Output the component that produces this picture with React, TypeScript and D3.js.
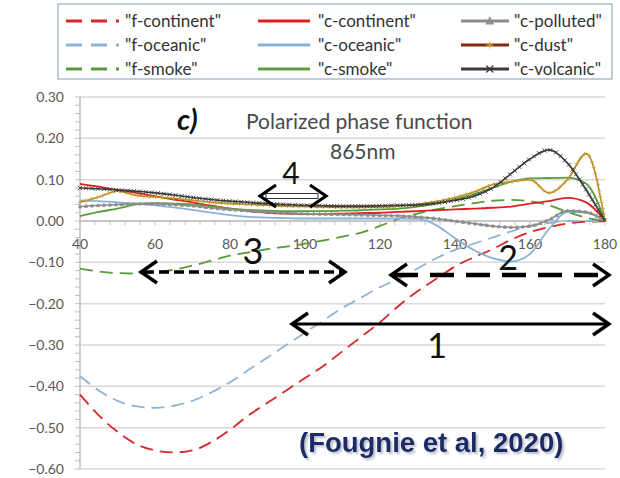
import React, { useEffect, useRef } from 'react';
import * as d3 from 'd3';

// Polarized phase function at 865nm, fine (f-) and coarse (c-) aerosol models.
// Values every 5 degrees of scattering angle.

const ANGLES = [40, 45, 50, 55, 60, 65, 70, 75, 80, 85, 90, 95, 100, 105, 110, 115, 120, 125, 130, 135, 140, 145, 150, 155, 160, 165, 170, 175, 180];

const fContinent = [-0.42, -0.47, -0.51, -0.54, -0.555, -0.56, -0.555, -0.535, -0.505, -0.47, -0.44, -0.41, -0.38, -0.35, -0.315, -0.28, -0.245, -0.205, -0.17, -0.14, -0.11, -0.088, -0.068, -0.045, -0.027, -0.015, -0.006, -0.002, 0];
const fOceanic = [-0.375, -0.41, -0.435, -0.448, -0.452, -0.447, -0.435, -0.415, -0.39, -0.36, -0.33, -0.3, -0.27, -0.24, -0.21, -0.185, -0.16, -0.14, -0.115, -0.09, -0.07, -0.055, -0.04, -0.025, -0.012, -0.005, 0, 0, 0];
const fSmoke = [-0.115, -0.122, -0.126, -0.127, -0.124, -0.118, -0.108, -0.096, -0.084, -0.076, -0.068, -0.062, -0.055, -0.047, -0.038, -0.028, -0.012, 0.005, 0.018, 0.028, 0.036, 0.043, 0.049, 0.051, 0.048, 0.038, 0.022, 0.008, 0];
const cContinent = [0.09, 0.083, 0.075, 0.068, 0.06, 0.052, 0.045, 0.037, 0.03, 0.024, 0.02, 0.018, 0.017, 0.017, 0.018, 0.019, 0.02, 0.022, 0.024, 0.026, 0.028, 0.03, 0.032, 0.035, 0.042, 0.048, 0.056, 0.045, 0];
const cOceanic = [0.05, 0.048, 0.045, 0.042, 0.038, 0.033, 0.027, 0.02, 0.014, 0.01, 0.008, 0.007, 0.006, 0.006, 0.006, 0.006, 0.006, 0.006, 0.005, -0.01, -0.042, -0.07, -0.09, -0.098, -0.08, -0.02, 0.022, 0.02, 0];
const cSmoke = [0.012, 0.022, 0.03, 0.04, 0.043, 0.042, 0.04, 0.035, 0.03, 0.027, 0.025, 0.024, 0.024, 0.024, 0.025, 0.026, 0.028, 0.03, 0.035, 0.042, 0.052, 0.065, 0.08, 0.095, 0.103, 0.104, 0.105, 0.09, 0];
const cPolluted = [0.035, 0.038, 0.04, 0.042, 0.042, 0.04, 0.037, 0.032, 0.028, 0.025, 0.022, 0.02, 0.018, 0.017, 0.016, 0.015, 0.014, 0.013, 0.01, 0.006, 0, -0.006, -0.012, -0.015, -0.012, 0.003, 0.025, 0.022, 0];
const cDust = [0.045, 0.058, 0.072, 0.062, 0.058, 0.055, 0.05, 0.045, 0.042, 0.04, 0.038, 0.036, 0.035, 0.034, 0.033, 0.033, 0.034, 0.036, 0.04, 0.047, 0.057, 0.07, 0.088, 0.095, 0.1, 0.068, 0.1, 0.163, 0];
const cVolcanic = [0.08, 0.078, 0.075, 0.072, 0.068, 0.063, 0.057, 0.052, 0.048, 0.045, 0.042, 0.04, 0.038, 0.037, 0.036, 0.036, 0.037, 0.038, 0.039, 0.043, 0.05, 0.06, 0.08, 0.115, 0.15, 0.172, 0.14, 0.075, 0];

const Y_TICKS = [0.3, 0.2, 0.1, 0, -0.1, -0.2, -0.3, -0.4, -0.5, -0.6];
const X_TICKS = [40, 60, 80, 100, 120, 140, 160, 180];

const SERIES = [
  { name: '"f-continent"', values: fContinent, color: '#d9262b', dash: '13,7', marker: null },
  { name: '"f-oceanic"', values: fOceanic, color: '#8fb4d6', dash: '13,7', marker: null },
  { name: '"f-smoke"', values: fSmoke, color: '#5b9a3a', dash: '13,7', marker: null },
  { name: '"c-continent"', values: cContinent, color: '#e02020', dash: null, marker: null },
  { name: '"c-oceanic"', values: cOceanic, color: '#88b2d8', dash: null, marker: null },
  { name: '"c-smoke"', values: cSmoke, color: '#5a9e3a', dash: null, marker: null },
  { name: '"c-polluted"', values: cPolluted, color: '#8c8c8c', dash: null, marker: 'tri' },
  { name: '"c-dust"', values: cDust, color: '#b88a20', dash: null, marker: 'plus' },
  { name: '"c-volcanic"', values: cVolcanic, color: '#3a3a3a', dash: null, marker: 'x' },
];

const FONT = 'Lato, "Open Sans", sans-serif';

function markerPath(kind, s) {
  if (kind === 'tri') return `M0,${-s}L${s},${s * 0.8}L${-s},${s * 0.8}Z`;
  if (kind === 'plus') return `M${-s},0H${s}M0,${-s}V${s}`;
  return `M${-s},${-s}L${s},${s}M${-s},${s}L${s},${-s}`;
}

const App = () => {
  const svgRef = useRef(null);

  useEffect(() => {
    document.body.style.margin = '0';
    const svg = d3.select(svgRef.current);
    svg.selectAll('*').remove();

    const defs = svg.append('defs');
    const f = defs.append('filter').attr('id', 'citeShadow').attr('x', '-5%').attr('y', '-20%')
      .attr('width', '115%').attr('height', '150%');
    f.append('feDropShadow').attr('dx', 2).attr('dy', 2).attr('stdDeviation', 1.2)
      .attr('flood-color', '#8890a8').attr('flood-opacity', 0.6);

    const x = d3.scaleLinear().domain([40, 180]).range([80, 605]);
    const y = d3.scaleLinear().domain([-0.6, 0.3]).range([469, 97]);

    // gridlines
    svg.append('g').selectAll('line').data(Y_TICKS).enter().append('line')
      .attr('x1', 80).attr('x2', 605)
      .attr('y1', d => y(d)).attr('y2', d => y(d))
      .attr('stroke', '#d9d9d9').attr('stroke-width', 1.5);

    // y axis with minor ticks
    const yAx = svg.append('g');
    yAx.append('line').attr('x1', 80).attr('x2', 80).attr('y1', y(0.3)).attr('y2', y(-0.6))
      .attr('stroke', '#bfbfbf').attr('stroke-width', 1.5);
    yAx.selectAll('line.minor').data(d3.range(-0.6, 0.3001, 0.02)).enter().append('line')
      .attr('class', 'minor')
      .attr('x1', 75).attr('x2', 80).attr('y1', d => y(d)).attr('y2', d => y(d))
      .attr('stroke', '#bfbfbf').attr('stroke-width', 1);
    yAx.selectAll('text').data(Y_TICKS).enter().append('text')
      .attr('x', 64).attr('y', d => y(d) + 5)
      .attr('text-anchor', 'end')
      .attr('fill', '#595959').style('font', `14px ${FONT}`)
      .text(d => d3.format('.2f')(d));

    // x axis on the zero line
    const xAx = svg.append('g');
    xAx.append('line').attr('x1', 80).attr('x2', 605).attr('y1', y(0)).attr('y2', y(0))
      .attr('stroke', '#bfbfbf').attr('stroke-width', 1.5);
    xAx.selectAll('line.minor').data(d3.range(40, 181, 4)).enter().append('line')
      .attr('class', 'minor')
      .attr('x1', d => x(d)).attr('x2', d => x(d)).attr('y1', y(0)).attr('y2', y(0) + 4)
      .attr('stroke', '#bfbfbf').attr('stroke-width', 1);
    xAx.selectAll('text').data(X_TICKS).enter().append('text')
      .attr('x', d => x(d)).attr('y', y(0) + 28)
      .attr('text-anchor', 'middle')
      .attr('fill', '#595959').style('font', `14px ${FONT}`)
      .text(d => d);

    const line = d3.line().x(d => x(d[0])).y(d => y(d[1])).curve(d3.curveMonotoneX);

    const gl = svg.append('g');
    SERIES.forEach(s => {
      const pts = ANGLES.map((a, i) => [a, s.values[i]]);
      const p = gl.append('path')
        .attr('d', line(pts))
        .attr('fill', 'none')
        .attr('stroke', s.color)
        .attr('stroke-width', s.marker ? 1.6 : 1.8)
        .attr('stroke-dasharray', s.dash);
      if (s.marker) {
        // markers spaced along the drawn curve
        const node = p.node();
        const len = node.getTotalLength();
        const step = 6;
        const mk = gl.append('g');
        for (let l = 0; l <= len; l += step) {
          const pt = node.getPointAtLength(l);
          mk.append('path')
            .attr('transform', `translate(${pt.x},${pt.y})`)
            .attr('d', markerPath(s.marker, s.marker === 'tri' ? 1.6 : 2))
            .attr('fill', s.marker === 'tri' ? s.color : 'none')
            .attr('stroke', s.marker === 'plus' ? '#c9a23a' : s.color)
            .attr('stroke-width', 0.9);
        }
      }
    });

    // titles
    svg.append('text').attr('x', 177).attr('y', 130)
      .style('font', `italic bold 29px ${FONT}`).attr('fill', '#111').text('c)');
    svg.append('text').attr('x', 246).attr('y', 129)
      .style('font', `21px ${FONT}`).attr('fill', '#4a4a4a').text('Polarized phase function');
    svg.append('text').attr('x', 330).attr('y', 159)
      .style('font', `21px ${FONT}`).attr('fill', '#4a4a4a').text('865nm');

    // range arrows
    const ga = svg.append('g').attr('fill', 'none').attr('stroke', '#000')
      .attr('stroke-linecap', 'butt').attr('stroke-linejoin', 'miter');
    const head = (g, tx, ty, dir, w) => {
      g.append('path')
        .attr('d', `M${tx - dir * 16},${ty - 11}L${tx},${ty}L${tx - dir * 16},${ty + 11}`)
        .attr('stroke-width', w);
    };
    const arrow = (x1, x2, yy, dash, w) => {
      const g = ga.append('g');
      g.append('line').attr('x1', x1 + 3).attr('x2', x2 - 3).attr('y1', yy).attr('y2', yy)
        .attr('stroke-width', w).attr('stroke-dasharray', dash);
      head(g, x1, yy, -1, 3.4);
      head(g, x2, yy, 1, 3.4);
    };
    arrow(292, 609, 324, null, 3.2);
    arrow(391, 609, 275, '24,12', 4.5);
    arrow(141, 345, 272, '10,5', 3.5);
    // arrow 4 with hollow shaft
    const g4 = ga.append('g');
    g4.append('rect').attr('x', 266).attr('y', 193.5).attr('width', 52).attr('height', 5)
      .attr('fill', '#fff').attr('stroke', '#333').attr('stroke-width', 1);
    head(g4, 260, 196, -1, 3.2);
    head(g4, 326, 196, 1, 3.2);

    const lbl = (t, xx, yy, sz) => svg.append('text').attr('x', xx).attr('y', yy)
      .attr('text-anchor', 'middle').style('font', `${sz}px ${FONT}`).attr('fill', '#111').text(t);
    lbl('1', 437, 358, 34);
    lbl('2', 508, 270, 34);
    lbl('3', 253, 264, 36);
    lbl('4', 291, 184, 30);

    // citation
    svg.append('text').attr('x', 299).attr('y', 452)
      .attr('filter', 'url(#citeShadow)')
      .style('font', `bold 27.5px "Liberation Sans", Arial, sans-serif`).attr('fill', '#1d2b66')
      .text('(Fougnie et al, 2020)');

    // legend
    const lg = svg.append('g');
    lg.append('rect').attr('x', 58).attr('y', 4).attr('width', 554).attr('height', 75)
      .attr('fill', '#fff').attr('stroke', '#9aaac4').attr('stroke-width', 1.2);
    const cols = [{ lx: 66, lw: 53, tx: 125 }, { lx: 258, lw: 52, tx: 318 }, { lx: 461, lw: 48, tx: 514 }];
    SERIES.forEach((s, i) => {
      const c = cols[Math.floor(i / 3)];
      const yy = 21 + (i % 3) * 24;
      lg.append('line').attr('x1', c.lx).attr('x2', c.lx + c.lw).attr('y1', yy).attr('y2', yy)
        .attr('stroke', s.name === '"c-dust"' ? '#7a2e0e' : s.color)
        .attr('stroke-width', 3)
        .attr('stroke-dasharray', s.dash ? '16,9' : null);
      if (s.marker) {
        lg.append('path').attr('transform', `translate(${c.lx + c.lw * 0.6},${yy})`)
          .attr('d', markerPath(s.marker, 3.5))
          .attr('fill', s.marker === 'tri' ? s.color : 'none')
          .attr('stroke', s.marker === 'plus' ? '#e0b020' : s.color)
          .attr('stroke-width', 1.2);
      }
      lg.append('text').attr('x', c.tx).attr('y', yy + 6)
        .style('font', `17px ${FONT}`).attr('fill', '#333').text(s.name);
    });
  }, []);

  return <svg ref={svgRef} width={620} height={478} style={{ display: 'block', background: '#fff' }} />;
};

export default App;
